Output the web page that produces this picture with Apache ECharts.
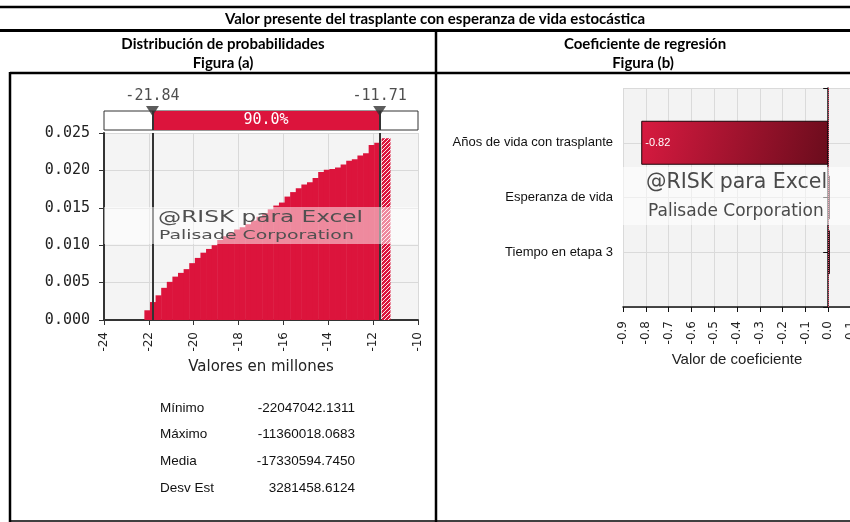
<!DOCTYPE html>
<html>
<head>
<meta charset="utf-8">
<script src="https://cdn.jsdelivr.net/npm/echarts@6/dist/echarts.min.js"></script>
<style>
  html, body { margin: 0; padding: 0; background: #fff; }
  #main { width: 850px; height: 522px; }
</style>
</head>
<body>
<div id="main"></div>
<script>
// histograma (densidad por intervalo, valores en millones)
var histStart = -22.2;
var histBinWidth = 0.25;
var histDensity = [
  0.0013, 0.0024, 0.0033, 0.0043, 0.0051, 0.0058, 0.0063, 0.0068, 0.0076, 0.0083,
  0.0090, 0.0095, 0.0100, 0.0107, 0.0112, 0.0117, 0.0121, 0.0124, 0.0128, 0.0133,
  0.0138, 0.0143, 0.0148, 0.0153, 0.0157, 0.0165, 0.0171, 0.0176, 0.0181, 0.0184,
  0.0190, 0.0198, 0.0201, 0.0202, 0.0204, 0.0208, 0.0213, 0.0215, 0.0220, 0.0223,
  0.0234, 0.0237
];
var tailBin = [-11.62, -11.25, 0.0243];
var cutoffs = [-21.84, -11.71];
var cutoffShare = '90.0%';

var statNames = ['Mínimo', 'Máximo', 'Media', 'Desv Est'];
var statValues = ['-22047042.1311', '-11360018.0683', '-17330594.7450', '3281458.6124'];

// coeficientes de regresión
var factors = ['Años de vida con trasplante', 'Esperanza de vida', 'Tiempo en etapa 3'];
var coefs = [-0.82, 0.007, 0.007];

var red = '#dc143c';
var hatch = document.createElement('canvas');
hatch.width = 4;
hatch.height = 4;
var g = hatch.getContext('2d');
g.fillStyle = red;
g.fillRect(0, 0, 4, 4);
g.strokeStyle = 'rgba(255,255,255,0.9)';
g.lineWidth = 1;
g.beginPath();
g.moveTo(0, 4);
g.lineTo(4, 0);
g.stroke();

var histData = histDensity.map(function (d, i) {
  return [histStart + i * histBinWidth, histStart + (i + 1) * histBinWidth, d, 0];
});
histData.push([tailBin[0], tailBin[1], tailBin[2], 1]);

var renderBin = function (params, api) {
  var p0 = api.coord([api.value(0), api.value(2)]);
  var p1 = api.coord([api.value(1), 0]);
  return {
    type: 'rect',
    shape: { x: p0[0], y: p0[1], width: p1[0] - p0[0] + 0.5, height: p1[1] - p0[1] },
    style: { fill: api.value(3) ? { image: hatch, repeat: 'repeat' } : red }
  };
};

var line = function (x1, y1, x2, y2, w) {
  return { type: 'line', z: 100, shape: { x1: x1, y1: y1, x2: x2, y2: y2 }, style: { stroke: '#000', lineWidth: w } };
};
var text = function (x, y, s, font, align, color) {
  return { type: 'text', z: 100, x: x, y: y, style: { text: s, font: font, fill: color || '#000', align: align || 'center', verticalAlign: 'middle' } };
};

var statFont = '13.5px "Liberation Sans"';
var graphics = [
  line(0, 7, 850, 7, 2.5),
  line(0, 30.5, 850, 30.5, 3),
  line(10, 73, 850, 73, 2.5),
  line(10, 72, 10, 522, 2.5),
  line(436, 30, 436, 522, 2.5),
  line(10, 521, 850, 521, 1.5),
  text(435, 19, 'Valor presente del trasplante con esperanza de vida estocástica', 'bold 15px Lato'),
  text(223, 44, 'Distribución de probabilidades', 'bold 15px Lato'),
  text(223, 63, 'Figura (a)', 'bold 15px Lato'),
  text(645, 44, 'Coeficiente de regresión', 'bold 15px Lato'),
  text(643, 63, 'Figura (b)', 'bold 15px Lato'),
  // marcas de agua
  { type: 'rect', z: 100, shape: { x: 104, y: 207, width: 314, height: 37 }, style: { fill: 'rgba(255,255,255,0.5)' } },
  { type: 'text', z: 101, x: 158, y: 218, scaleX: 1.45, style: { text: '@RISK para Excel', font: '16px "DejaVu Sans"', fill: '#505050', align: 'left', verticalAlign: 'middle' } },
  { type: 'text', z: 101, x: 159, y: 236, scaleX: 1.45, style: { text: 'Palisade Corporation', font: '13px "DejaVu Sans"', fill: '#505050', align: 'left', verticalAlign: 'middle' } },
  { type: 'rect', z: 100, shape: { x: 623, y: 167, width: 228, height: 58 }, style: { fill: 'rgba(255,255,255,0.55)' } },
  { type: 'text', z: 101, x: 646, y: 183, style: { text: '@RISK para Excel', font: '20.5px "DejaVu Sans"', fill: '#4a4a4a', align: 'left', verticalAlign: 'middle' } },
  { type: 'text', z: 101, x: 648, y: 212, style: { text: 'Palisade Corporation', font: '17px "DejaVu Sans"', fill: '#4a4a4a', align: 'left', verticalAlign: 'middle' } }
];
statNames.forEach(function (n, i) {
  var y = 408 + i * 26.7;
  graphics.push(text(160, y, n, statFont, 'left', '#111'));
  graphics.push(text(355, y, statValues[i], statFont, 'right', '#111'));
});

var myCharts = echarts.init(document.getElementById('main'));
var options = {
  animation: false,
  backgroundColor: '#fff',
  graphic: graphics,
  grid: [
    { left: 104, top: 133, width: 314, height: 187, outerBoundsMode: 'none', show: true, backgroundColor: '#f4f4f4', borderWidth: 0 },
    { left: 104, top: 111, width: 314, height: 19, outerBoundsMode: 'none', show: true, backgroundColor: '#fff', borderColor: '#333', borderWidth: 1 },
    { left: 623, top: 88, width: 228, height: 219, outerBoundsMode: 'none', show: true, backgroundColor: '#f3f3f3', borderWidth: 0 }
  ],
  xAxis: [
    {
      gridIndex: 0, type: 'value', min: -24, max: -10, interval: 2,
      axisLine: { show: true, onZero: false, lineStyle: { color: '#333', width: 2 } },
      axisTick: { show: true, length: 5, lineStyle: { color: '#333' } },
      axisLabel: { rotate: 90, margin: 12, fontFamily: 'DejaVu Sans', fontSize: 12, color: '#222' },
      splitLine: { show: true, lineStyle: { color: '#d9d9d9' } },
      name: 'Valores en millones', nameLocation: 'middle', nameGap: 40,
      nameTextStyle: { fontFamily: 'DejaVu Sans', fontSize: 15, color: '#222' }
    },
    { gridIndex: 1, type: 'value', min: -24, max: -10, show: false },
    {
      gridIndex: 2, type: 'value', min: -0.9, max: 0.1, interval: 0.1,
      axisLine: { show: true, onZero: false, lineStyle: { color: '#111', width: 1.5 } },
      axisTick: { show: true, length: 5, lineStyle: { color: '#111' } },
      axisLabel: {
        rotate: 90, margin: 14, fontFamily: 'DejaVu Sans', fontSize: 12, color: '#222',
        formatter: function (v) { return (Math.abs(v) < 1e-9 ? 0 : v).toFixed(1); }
      },
      splitLine: { show: true, lineStyle: { color: '#dadada' } },
      name: 'Valor de coeficiente', nameLocation: 'middle', nameGap: 45,
      nameTextStyle: { fontFamily: 'Liberation Sans', fontSize: 15, color: '#222' }
    }
  ],
  yAxis: [
    {
      gridIndex: 0, type: 'value', min: 0, max: 0.025, interval: 0.005,
      axisLine: { show: true, lineStyle: { color: '#333', width: 2 } },
      axisTick: { show: true, length: 5, lineStyle: { color: '#333' } },
      axisLabel: {
        margin: 14, fontFamily: 'DejaVu Sans Mono', fontSize: 15, color: '#222',
        formatter: function (v) { return v.toFixed(3); }
      },
      splitLine: { show: true, lineStyle: { color: '#d9d9d9' } }
    },
    { gridIndex: 1, type: 'value', min: 0, max: 1, show: false },
    {
      gridIndex: 2, type: 'category', inverse: true, boundaryGap: false,
      data: [''].concat(factors, [' ']),
      axisLine: { show: true, lineStyle: { color: '#111', width: 1.5 } },
      axisTick: { show: true, length: 5, lineStyle: { color: '#111' } },
      axisLabel: { margin: 10, fontFamily: 'Liberation Sans', fontSize: 13, color: '#111' },
      splitLine: { show: true, lineStyle: { color: '#dadada' } }
    }
  ],
  series: [
    {
      type: 'custom',
      xAxisIndex: 0, yAxisIndex: 0,
      renderItem: renderBin,
      encode: { x: [0, 1], y: 2 },
      data: histData,
      clip: true,
      markLine: {
        silent: true, symbol: 'none', label: { show: false },
        lineStyle: { color: '#333', width: 2, type: 'solid' },
        data: cutoffs.map(function (c) { return { xAxis: c }; })
      }
    },
    {
      type: 'scatter',
      xAxisIndex: 1, yAxisIndex: 1,
      data: cutoffs.map(function (c) { return [c, 1]; }),
      symbol: 'triangle', symbolRotate: 180, symbolSize: [13, 10],
      itemStyle: { color: '#333' },
      z: 5,
      label: {
        show: true, position: 'top', distance: 2,
        fontFamily: 'DejaVu Sans Mono', fontSize: 15, color: '#222',
        formatter: function (p) { return p.value[0].toFixed(2); }
      },
      markArea: {
        silent: true,
        itemStyle: { color: red },
        label: { show: true, position: 'inside', color: '#fff', fontFamily: 'DejaVu Sans Mono', fontSize: 15 },
        data: [[{ xAxis: cutoffs[0], name: cutoffShare }, { xAxis: cutoffs[1] }]]
      },
      markLine: {
        silent: true, symbol: 'none', label: { show: false },
        lineStyle: { color: '#333', width: 2, type: 'solid' },
        data: cutoffs.map(function (c) { return { xAxis: c }; })
      }
    },
    {
      type: 'line',
      xAxisIndex: 2, yAxisIndex: 2,
      data: [],
      z: 1,
      markLine: {
        silent: true, symbol: 'none', label: { show: false },
        lineStyle: { color: '#e8476a', width: 1, type: 'dotted' },
        data: [{ xAxis: 0 }]
      }
    },
    {
      type: 'bar',
      xAxisIndex: 2, yAxisIndex: 2,
      data: [null].concat(coefs, [null]),
      barWidth: 44,
      z: 3,
      itemStyle: {
        borderColor: '#1a0508', borderWidth: 1,
        color: new echarts.graphic.LinearGradient(0, 0, 1, 1, [
          { offset: 0, color: '#d81a40' },
          { offset: 1, color: '#6a0c1c' }
        ])
      },
      label: {
        show: true, position: 'insideLeft', distance: 4, color: '#fff',
        fontFamily: 'Liberation Sans', fontSize: 11,
        formatter: function (p) { return Math.abs(p.value) >= 0.1 ? p.value.toFixed(2) : ''; }
      }
    }
  ]
};

myCharts.setOption(options);
</script>
</body>
</html>
